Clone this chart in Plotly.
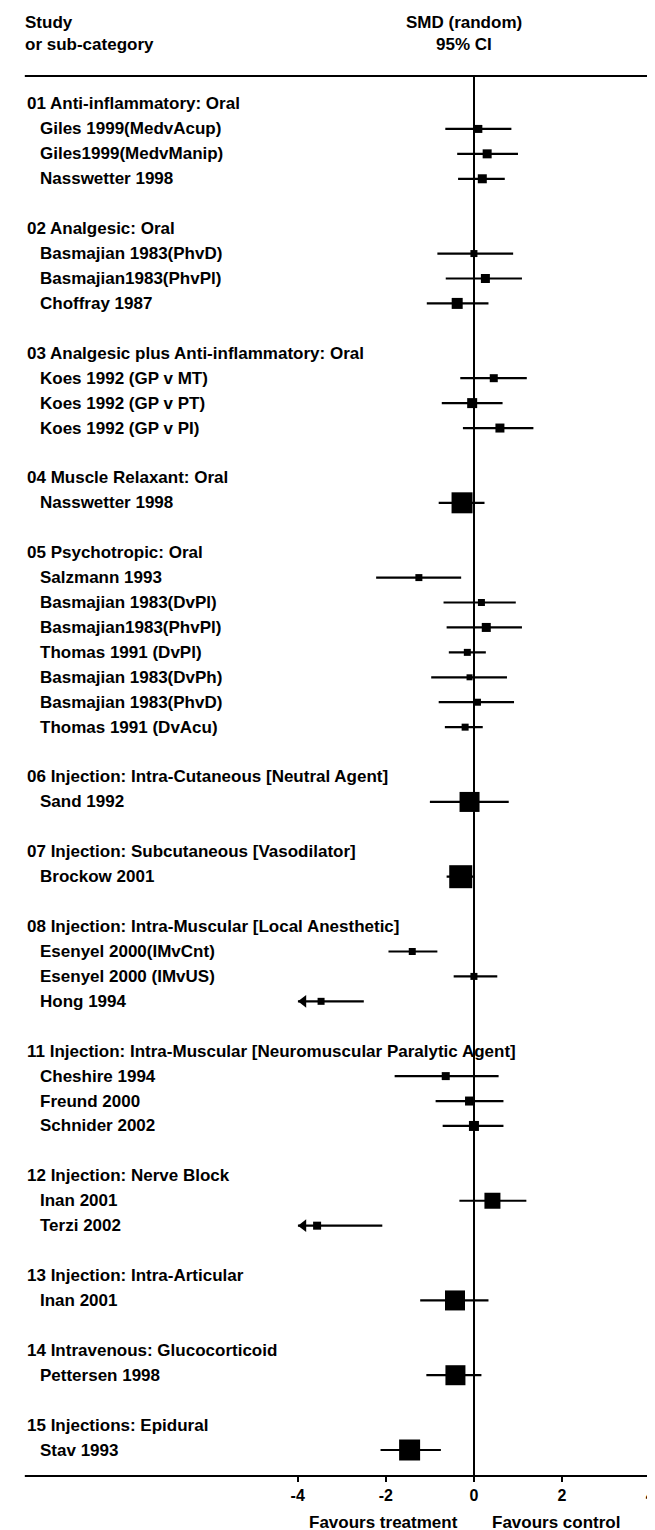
import plotly.graph_objects as go

W, H = 655, 1530

group_labels = [
    "01 Anti-inflammatory: Oral",
    "02 Analgesic: Oral",
    "03 Analgesic plus Anti-inflammatory: Oral",
    "04 Muscle Relaxant: Oral",
    "05 Psychotropic: Oral",
    "06 Injection: Intra-Cutaneous [Neutral Agent]",
    "07 Injection: Subcutaneous [Vasodilator]",
    "08 Injection: Intra-Muscular [Local Anesthetic]",
    "11 Injection: Intra-Muscular [Neuromuscular Paralytic Agent]",
    "12 Injection: Nerve Block",
    "13 Injection: Intra-Articular",
    "14 Intravenous: Glucocorticoid",
    "15 Injections: Epidural",
]

study_names = [
    "Giles 1999(MedvAcup)", "Giles1999(MedvManip)", "Nasswetter 1998",
    "Basmajian 1983(PhvD)", "Basmajian1983(PhvPl)", "Choffray 1987",
    "Koes 1992 (GP v MT)", "Koes 1992 (GP v PT)", "Koes 1992 (GP v PI)",
    "Nasswetter 1998",
    "Salzmann 1993", "Basmajian 1983(DvPl)", "Basmajian1983(PhvPl)",
    "Thomas 1991 (DvPl)", "Basmajian 1983(DvPh)", "Basmajian 1983(PhvD)",
    "Thomas 1991 (DvAcu)",
    "Sand 1992",
    "Brockow 2001",
    "Esenyel 2000(IMvCnt)", "Esenyel 2000 (IMvUS)", "Hong 1994",
    "Cheshire 1994", "Freund 2000", "Schnider 2002",
    "Inan 2001", "Terzi 2002",
    "Inan 2001",
    "Pettersen 1998",
    "Stav 1993",
]
study_group = [0, 0, 0, 1, 1, 1, 2, 2, 2, 3, 4, 4, 4, 4, 4, 4, 4, 5, 6,
               7, 7, 7, 8, 8, 8, 9, 9, 10, 11, 12]
smd = [0.10, 0.30, 0.19, 0.00, 0.26, -0.38, 0.45, -0.04, 0.59, -0.27,
       -1.25, 0.17, 0.28, -0.15, -0.10, 0.08, -0.20, -0.10, -0.30,
       -1.40, 0.00, -3.47, -0.64, -0.10, 0.00, 0.42, -3.56, -0.43, -0.42, -1.46]
ci_low = [-0.65, -0.38, -0.36, -0.83, -0.64, -1.07, -0.31, -0.73, -0.25, -0.80,
          -2.22, -0.69, -0.62, -0.57, -0.97, -0.80, -0.66, -1.00, -0.62,
          -1.94, -0.46, -4.44, -1.80, -0.87, -0.71, -0.33, -5.04, -1.22, -1.08, -2.12]
ci_high = [0.85, 1.00, 0.70, 0.89, 1.09, 0.33, 1.20, 0.65, 1.35, 0.24,
           -0.29, 0.95, 1.09, 0.27, 0.75, 0.91, 0.20, 0.79, 0.02,
           -0.83, 0.53, -2.50, 0.56, 0.67, 0.67, 1.19, -2.08, 0.33, 0.17, -0.75]
weight_px = [8, 9, 9, 7, 9, 11, 8, 10, 9, 21,
             7, 7, 9, 7, 6, 7, 7, 20, 23,
             7, 7, 7, 8, 9, 10, 16, 8, 20, 20, 21]
x_ticks = [-4, -2, 0, 2, 4]

XMIN, XMAX = -4, 4

# ---- layout of rows (slots) ----
slot = 1
group_slot = []
study_slot = []
for gi, g in enumerate(group_labels):
    group_slot.append(slot)
    slot += 1
    for si, sg in enumerate(study_group):
        if sg == gi:
            study_slot.append((si, slot))
            slot += 1
    slot += 1
study_slot = [s for _, s in sorted(study_slot)]

# pixel geometry
first_px, last_px = 96, 1442
n_last = study_slot[-1]
step = (last_px - first_px) / (n_last - 1)
top_line_px, axis_px = 68, 1468
y_top_val = 1 - (first_px - top_line_px) / step
y_bot_val = 1 + (axis_px - first_px) / step
ydom = [(H - axis_px) / H, (H - top_line_px) / H]
xdom = [288 / W, 647 / W]

FONT = "Liberation Sans"
fs = 17

def b(t):
    return "<b>" + t + "</b>"

fig = go.Figure()

# CI lines
lx, ly = [], []
arrow_x, arrow_y = [], []
for i in range(len(study_names)):
    lo = max(ci_low[i], XMIN)
    hi = min(ci_high[i], XMAX)
    lx += [lo, hi, None]
    ly += [study_slot[i], study_slot[i], None]
    if ci_low[i] < XMIN:
        arrow_x.append(XMIN + 0.13)
        arrow_y.append(study_slot[i])

fig.add_trace(go.Scatter(x=lx, y=ly, mode="lines",
                         line=dict(color="black", width=2.2),
                         hoverinfo="skip", showlegend=False, cliponaxis=False))
fig.add_trace(go.Scatter(x=smd, y=study_slot, mode="markers",
                         marker=dict(symbol="square", color="#000000", opacity=1,
                                     size=weight_px, line=dict(width=0)),
                         showlegend=False, cliponaxis=False))
fig.add_trace(go.Scatter(x=arrow_x, y=arrow_y, mode="markers",
                         marker=dict(symbol="triangle-left", color="#000000",
                                     opacity=1, size=11),
                         showlegend=False, cliponaxis=False))

ann = []
for gi, g in enumerate(group_labels):
    ann.append(dict(x=10 / W, xref="paper", y=group_slot[gi], yref="y",
                    text=b(g), showarrow=False, xanchor="left", yanchor="middle",
                    font=dict(size=fs, family=FONT, color="black")))
for i, s in enumerate(study_names):
    ann.append(dict(x=23 / W, xref="paper", y=study_slot[i], yref="y",
                    text=b(s), showarrow=False, xanchor="left", yanchor="middle",
                    font=dict(size=fs, family=FONT, color="black")))

def paper_y(px):
    return 1 - px / H

for txt, x, yp, anc in [("Study", 8, 15, "left"), ("or sub-category", 8, 36, "left"),
                        ("SMD (random)", 457, 15, "center"), ("95% CI", 457, 36, "center"),
                        ("Favours treatment", 375, 1514, "center"),
                        ("Favours control", 551, 1514, "center")]:
    ann.append(dict(x=x / W, xref="paper", y=paper_y(yp), yref="paper", text=b(txt),
                    showarrow=False, xanchor=anc, yanchor="middle",
                    font=dict(size=fs, family=FONT, color="black")))

shapes = [
    dict(type="line", xref="paper", yref="paper", x0=10 / W, x1=1,
         y0=ydom[1], y1=ydom[1], line=dict(color="black", width=2)),
    dict(type="line", xref="paper", yref="paper", x0=10 / W, x1=1,
         y0=ydom[0], y1=ydom[0], line=dict(color="black", width=2)),
]

fig.update_layout(
    width=W, height=H, margin=dict(l=0, r=0, t=0, b=0),
    paper_bgcolor="white", plot_bgcolor="white",
    annotations=ann, shapes=shapes,
    xaxis=dict(domain=xdom, range=[XMIN, XMAX], tickvals=x_ticks,
               ticktext=[b(str(t)) for t in x_ticks], showgrid=False,
               zeroline=True, zerolinecolor="black", zerolinewidth=2,
               showline=False, ticks="outside", ticklen=5, tickwidth=2,
               tickcolor="black", ticklabeloverflow="allow",
               tickfont=dict(size=16, family=FONT, color="black"),
               fixedrange=True),
    yaxis=dict(domain=ydom, range=[y_bot_val, y_top_val], visible=False,
               fixedrange=True),
    font=dict(family=FONT, color="black"),
)

fig.write_html("out.html")
